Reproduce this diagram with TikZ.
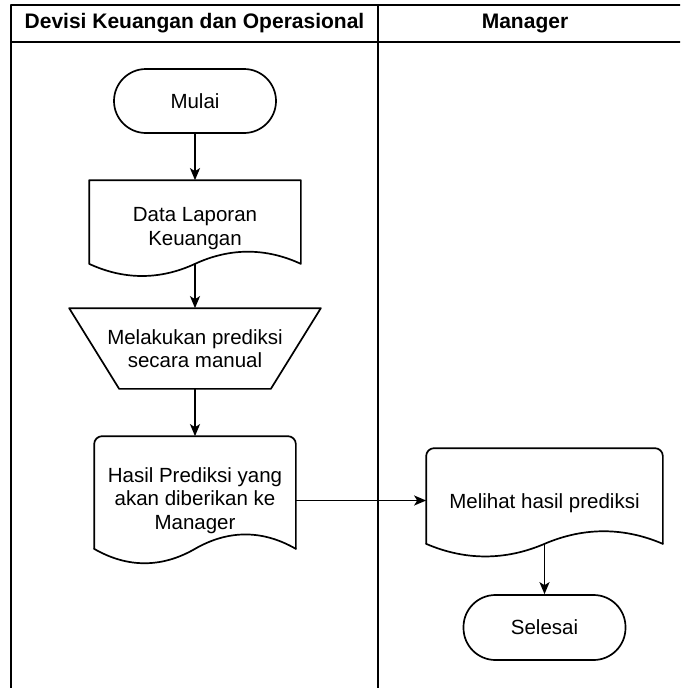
\documentclass[tikz,border=0pt]{standalone}
\usepackage{fontspec}
\setmainfont{Liberation Sans}
\usetikzlibrary{arrows.meta,calc}
\begin{document}
\begin{tikzpicture}[x=1pt,y=-1pt,
  line width=1.7pt, line join=round, line cap=round,
  every node/.style={font=\fontsize{20.5}{23.5}\selectfont, align=center, inner sep=0pt},
  hdr/.style={font=\fontsize{21}{24}\selectfont\bfseries},
  term/.style={draw, rounded corners=32pt, minimum width=162pt, minimum height=64pt},
  arr/.style={-{Stealth[length=12pt,width=10pt,inset=3pt]}},
]
\useasboundingbox (0,0) rectangle (680,688);
% lanes
\begin{scope}
\clip (0,0) rectangle (680,688);
\draw (11,5) rectangle (700,710);
\draw (11,42) -- (700,42);
\draw (378,5) -- (378,710);
\end{scope}
\node[hdr] (h1) at (194.5,23.5) {Devisi Keuangan dan Operasional};
\node[hdr] (h2) at (525,23.5) {Manager};

% Mulai
\node[term] (mulai) at (195,101) {Mulai};

% Data Laporan Keuangan (document)
\node[minimum width=210pt, minimum height=95.5pt] (dl) at (195,228.75) {Data Laporan\\Keuangan};
\draw (dl.north west) -- (dl.north east) -- ($(dl.south east)+(0,-13.5)$)
  .. controls +(-35,-16.2) and +(35,-16.2) .. ($(dl.south)+(0,-13.5)$)
  .. controls +(-35,16.2) and +(35,16.2) .. ($(dl.south west)+(0,-13.5)$) -- cycle;
\coordinate (dlb) at ($(dl.south)+(0,-13.5)$);

% Manual operation
\node[minimum width=250pt, minimum height=79pt] (mp) at (195,348.5) {Melakukan prediksi\\secara manual};
\draw (mp.north west) -- (mp.north east) -- ($(mp.south east)+(-50,0)$) -- ($(mp.south west)+(50,0)$) -- cycle;

% Hasil Prediksi (document, rounded top)
\node[minimum width=200pt, minimum height=127pt] (hp) at (195,500.5) {Hasil Prediksi yang\\akan diberikan ke\\Manager};
\draw[rounded corners=8pt] ($(hp.south west)+(0,-16)$) -- (hp.north west) -- (hp.north east) -- ($(hp.south east)+(0,-16)$);
\draw ($(hp.south east)+(0,-16)$)
  .. controls +(-33.3,-19.2) and +(33.3,-19.2) .. ($(hp.south)+(0,-16)$)
  .. controls +(-33.3,19.2) and +(33.3,19.2) .. ($(hp.south west)+(0,-16)$);

% Melihat hasil prediksi (document, rounded top)
\node[minimum width=235pt, minimum height=108pt] (ml) at (544.5,503) {Melihat hasil prediksi};
\draw[rounded corners=8pt] ($(ml.south west)+(0,-14)$) -- (ml.north west) -- (ml.north east) -- ($(ml.south east)+(0,-14)$);
\draw ($(ml.south east)+(0,-14)$)
  .. controls +(-39.2,-16.8) and +(39.2,-16.8) .. ($(ml.south)+(0,-14)$)
  .. controls +(-39.2,16.8) and +(39.2,16.8) .. ($(ml.south west)+(0,-14)$);
\coordinate (mlb) at ($(ml.south)+(0,-14)$);

% Selesai
\node[term, minimum height=65pt] (sel) at (544.5,627.5) {Selesai};

% connectors
\draw[arr] (mulai.south) -- (dl.north);
\draw[arr] (dlb) -- (mp.north);
\draw[arr] (mp.south) -- (hp.north);
\draw[arr] (hp.east) -- (ml.west |- hp.east);
\draw[arr] (mlb) -- (sel.north);
\end{tikzpicture}
\end{document}
